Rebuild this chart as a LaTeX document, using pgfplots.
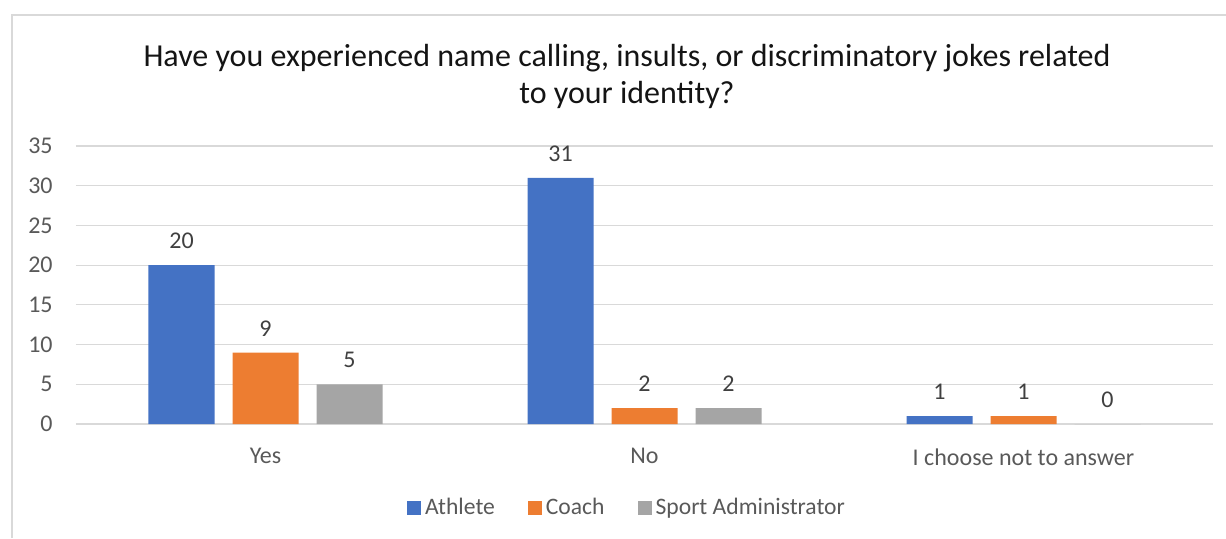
\documentclass[border=0pt]{standalone}
\usepackage{fontspec}
\setmainfont{Carlito}
\usepackage{pgfplots}
\pgfplotsset{compat=1.18}
\definecolor{athlete}{HTML}{4472C4}
\definecolor{coach}{HTML}{ED7D31}
\definecolor{admin}{HTML}{A5A5A5}
\definecolor{gridc}{HTML}{D9D9D9}
\definecolor{labc}{HTML}{595959}
\definecolor{valc}{HTML}{404040}
\begin{document}
\begin{tikzpicture}[x=0.5pt,y=0.5pt]
\useasboundingbox (0,0) rectangle (1226,538);
\draw[gridc, line width=0.75pt] (12,0) -- (12,523) -- (1226,523);
\node[anchor=base, font=\fontsize{16}{19}\selectfont, text=black!92] at (627,472) {Have you experienced name calling, insults, or discriminatory jokes related};
\node[anchor=base, font=\fontsize{16}{19}\selectfont, text=black!92] at (627,435) {to your identity?};
\begin{axis}[
  at={(38pt,57pt)}, anchor=south west,
  width=568.5pt, height=139pt, scale only axis,
  xmin=-0.5, xmax=2.5, ymin=0, ymax=35,
  ytick={0,5,...,35},
  xtick={0,1,2},
  xticklabels={Yes,No,I choose not to answer},
  major tick length=0pt,
  ymajorgrids, grid style={gridc, line width=0.6pt},
  axis line style={draw=none},
  clip=false,
  ybar=9pt, bar width=33pt,
  tick label style={font=\fontsize{12}{14}\selectfont, text=labc},
  yticklabel style={inner sep=0pt, xshift=-11.5pt},
  xticklabel style={inner sep=0pt, yshift=-12pt},
  /pgf/number format/assume math mode=true,
  nodes near coords,
  every node near coord/.append style={font=\fontsize{12}{14}\selectfont, text=valc, inner sep=0pt, yshift=8pt},
  legend style={at={(0.4855,-0.302)}, anchor=center, draw=none, fill=none,
    legend columns=-1, font=\fontsize{11.8}{14}\selectfont, text=labc,
    /tikz/every even column/.append style={column sep=14.5pt},
    inner sep=0pt},
  legend image code/.code={\fill[#1] (0pt,-3.5pt) rectangle (7pt,3.5pt);},
  legend cell align=left,
]
\addplot[fill=athlete, draw=none] coordinates {(0,20) (1,31) (2,1)};
\addplot[fill=coach, draw=none] coordinates {(0,9) (1,2) (2,1)};
\addplot[fill=admin, draw=none] coordinates {(0,5) (1,2) (2,0)};
\legend{Athlete,Coach,Sport Administrator}
\end{axis}
\end{tikzpicture}
\end{document}
